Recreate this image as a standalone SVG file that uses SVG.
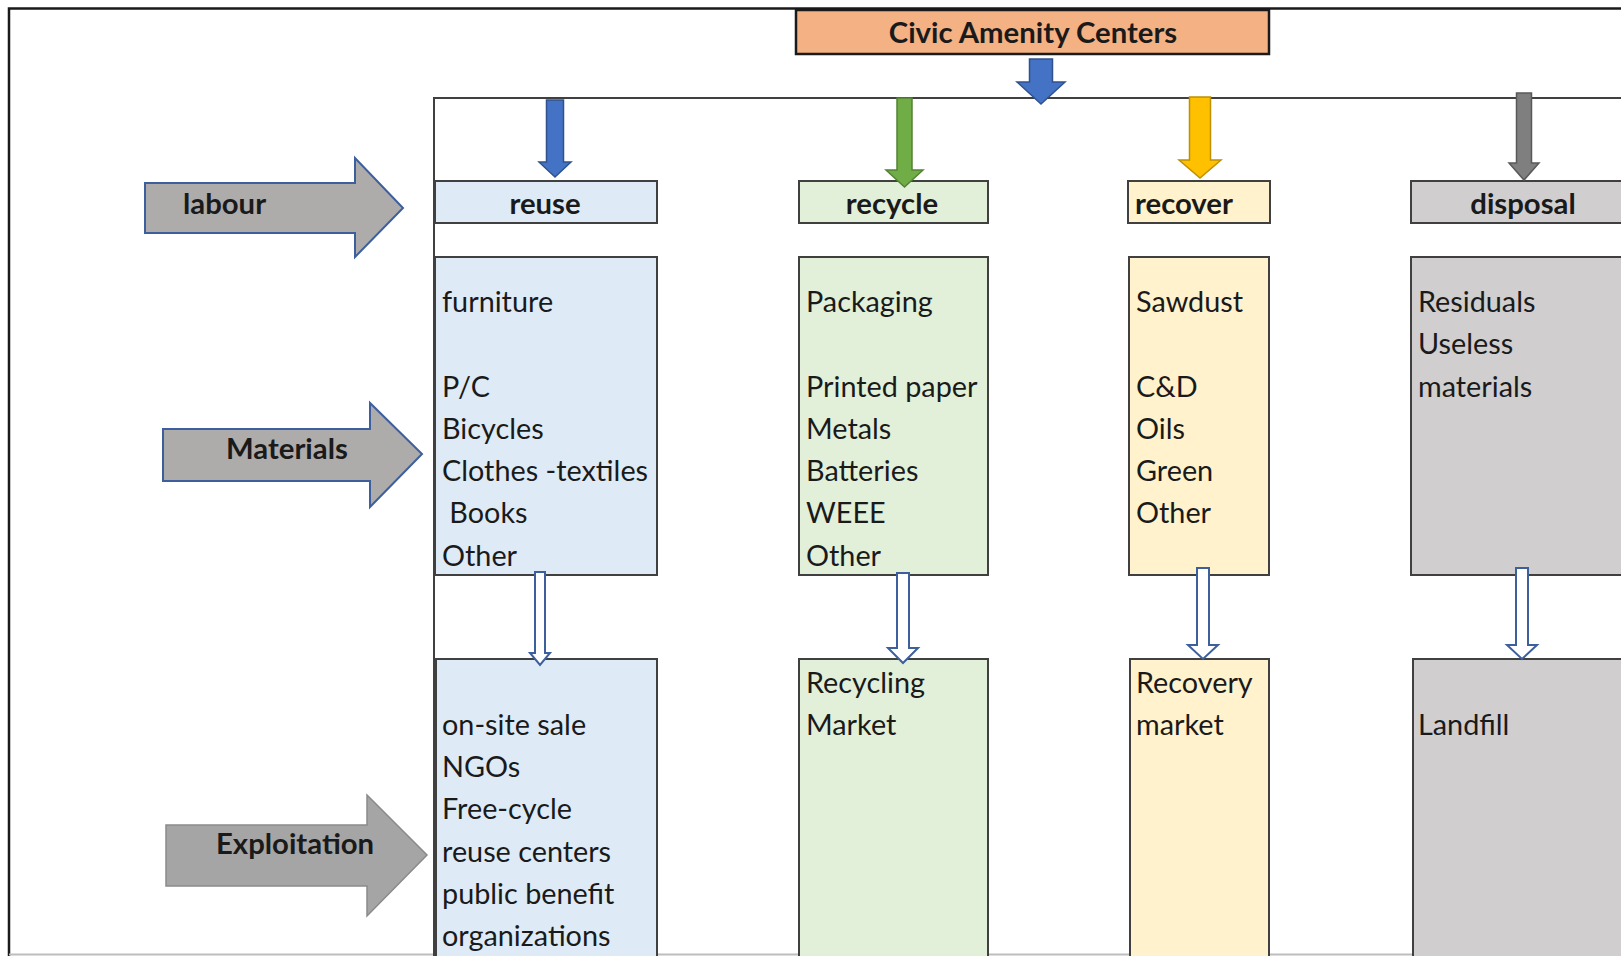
<svg xmlns="http://www.w3.org/2000/svg" width="1621" height="956" viewBox="0 0 1621 956">
<style>
.b{font-family:Lato,"Liberation Sans",sans-serif;font-weight:bold;font-size:29.3px;fill:#1a1a1a}
.t{font-family:Lato,"Liberation Sans",sans-serif;font-size:28.8px;fill:#1a1a1a}
.box{stroke:#404040;stroke-width:2}
.reuse{fill:#DEEBF7}.recycle{fill:#E2F0D9}.recover{fill:#FFF2CC}.disposal{fill:#D0CECE}
.hollow{fill:#ffffff;stroke:#3D5F9E;stroke-width:2}
.side{stroke:#3D5F9E;stroke-width:2}
</style>
<rect x="0" y="0" width="1621" height="956" fill="#ffffff"/>
<g id="border" fill="none">
<path d="M9,956 V8.5 H1621" stroke="#1a1a1a" stroke-width="2.5"/>
<path d="M9,954.5 H1621" stroke="#bdbdbd" stroke-width="2"/>
</g>
<g id="frame" fill="none" stroke="#404040" stroke-width="2">
<path d="M434,960 V98 H1621"/>
</g>
<g id="civic">
<rect x="796" y="10" width="473" height="44" fill="#F4B183" stroke="#1a1a1a" stroke-width="2.5"/>
<text class="b" x="1033" y="43" text-anchor="middle">Civic Amenity Centers</text>
</g>
<g id="labour">
<polygon class="side" fill="#AEABAB" points="145,183 355,183 355,158 403,208 355,257 355,233 145,233"/>
<text class="b" x="183" y="214">labour</text>
</g>
<g id="materials">
<polygon class="side" fill="#AEABAB" points="163,429 370,429 370,403 422,454 370,507 370,481 163,481"/>
<text class="b" x="226" y="459">Materials</text>
</g>
<g id="exploitation">
<polygon fill="#A5A5A5" stroke="#8a8a8a" stroke-width="1.5" points="166,825 367,825 367,795 427,855 367,916 367,886 166,886"/>
<text class="b" x="216" y="854">Exploitation</text>
</g>
<g id="reuse-header">
<rect class="box reuse" x="435" y="181" width="222" height="42"/>
<text class="b" x="545" y="214" text-anchor="middle">reuse</text>
</g>
<g id="recycle-header">
<rect class="box recycle" x="799" y="181" width="189" height="42"/>
<text class="b" x="892" y="214" text-anchor="middle">recycle</text>
</g>
<g id="recover-header">
<rect class="box recover" x="1128" y="181" width="142" height="42"/>
<text class="b" x="1135" y="214">recover</text>
</g>
<g id="disposal-header">
<rect class="box disposal" x="1411" y="181" width="220" height="42"/>
<text class="b" x="1523" y="214" text-anchor="middle">disposal</text>
</g>
<g id="reuse-materials">
<rect class="box reuse" x="435" y="257" width="222" height="318"/>
<text class="t" x="442" y="312">furniture</text>
<text class="t" x="442" y="397">P/C</text>
<text class="t" x="442" y="439">Bicycles</text>
<text class="t" x="442" y="481">Clothes -textiles</text>
<text class="t" x="442" y="523" xml:space="preserve"> Books</text>
<text class="t" x="442" y="566">Other</text>
</g>
<g id="recycle-materials">
<rect class="box recycle" x="799" y="257" width="189" height="318"/>
<text class="t" x="806" y="312">Packaging</text>
<text class="t" x="806" y="397">Printed paper</text>
<text class="t" x="806" y="439">Metals</text>
<text class="t" x="806" y="481">Batteries</text>
<text class="t" x="806" y="523">WEEE</text>
<text class="t" x="806" y="566">Other</text>
</g>
<g id="recover-materials">
<rect class="box recover" x="1129" y="257" width="140" height="318"/>
<text class="t" x="1136" y="312">Sawdust</text>
<text class="t" x="1136" y="397">C&amp;D</text>
<text class="t" x="1136" y="439">Oils</text>
<text class="t" x="1136" y="481">Green</text>
<text class="t" x="1136" y="523">Other</text>
</g>
<g id="disposal-materials">
<rect class="box disposal" x="1411" y="257" width="220" height="318"/>
<text class="t" x="1418" y="312">Residuals</text>
<text class="t" x="1418" y="354">Useless</text>
<text class="t" x="1418" y="397">materials</text>
</g>
<g id="reuse-exploitation">
<rect class="box reuse" x="436" y="659" width="221" height="310"/>
<text class="t" x="442" y="735">on-site sale</text>
<text class="t" x="442" y="777">NGOs</text>
<text class="t" x="442" y="819">Free-cycle</text>
<text class="t" x="442" y="862">reuse centers</text>
<text class="t" x="442" y="904">public benefit</text>
<text class="t" x="442" y="946">organizations</text>
</g>
<g id="recycle-market">
<rect class="box recycle" x="799" y="659" width="189" height="310"/>
<text class="t" x="806" y="693">Recycling</text>
<text class="t" x="806" y="735">Market</text>
</g>
<g id="recovery-market">
<rect class="box recover" x="1130" y="659" width="139" height="310"/>
<text class="t" x="1136" y="693">Recovery</text>
<text class="t" x="1136" y="735">market</text>
</g>
<g id="landfill">
<rect class="box disposal" x="1413" y="659" width="218" height="310"/>
<text class="t" x="1418" y="735">Landfill</text>
</g>
<g id="connectors">
<polygon fill="#4472C4" stroke="#2F528F" stroke-width="1.5" points="1029.5,59 1052.5,59 1052.5,82 1065,82 1041,104 1017,82 1029.5,82"/>
<polygon fill="#4472C4" stroke="#2F528F" stroke-width="1.5" points="546.5,100 563.5,100 563.5,162 571,162 555,177 539,162 546.5,162"/>
<polygon fill="#70AD47" stroke="#548235" stroke-width="1.5" points="897,98 912,98 912,170 923,170 904.5,187 886,170 897,170"/>
<polygon fill="#FFC000" stroke="#BF9000" stroke-width="1.5" points="1189.5,97 1210.5,97 1210.5,160 1221,160 1200,178 1179,160 1189.5,160"/>
<polygon fill="#7F7F7F" stroke="#595959" stroke-width="1.5" points="1516.5,93 1531.5,93 1531.5,163 1539,163 1524,180 1509,163 1516.5,163"/>
<polygon class="hollow" points="535,572 545,572 545,653 550,653 540,665 530,653 535,653"/>
<polygon class="hollow" points="897,573 909,573 909,648 918,648 903,663 888,648 897,648"/>
<polygon class="hollow" points="1197,568 1209,568 1209,645 1218,645 1203,659 1188,645 1197,645"/>
<polygon class="hollow" points="1516,568 1528,568 1528,645 1537,645 1522,659 1507,645 1516,645"/>
</g>
</svg>
